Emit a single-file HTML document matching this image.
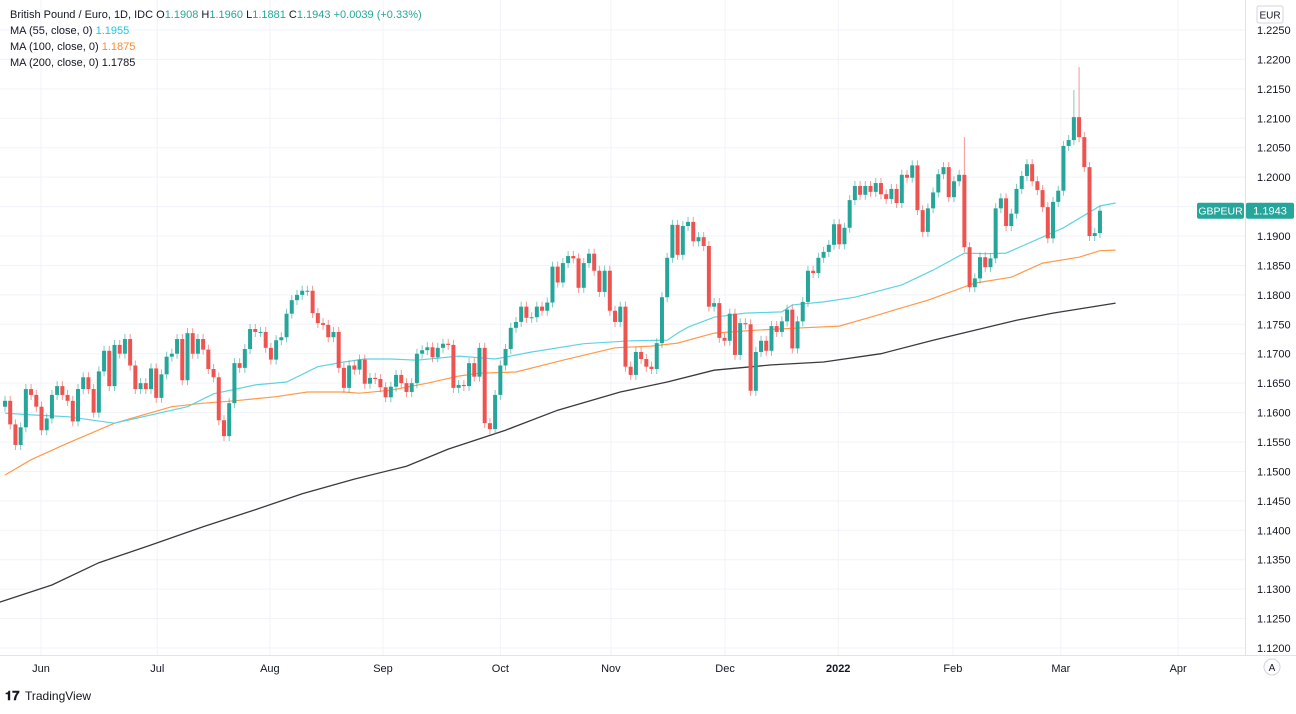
<!DOCTYPE html>
<html><head><meta charset="utf-8">
<style>
body{margin:0;background:#fff;font-family:"Liberation Sans",sans-serif;}
svg text{font-family:"Liberation Sans",sans-serif;}
</style></head>
<body>
<svg id="chart" width="1296" height="709" xmlns="http://www.w3.org/2000/svg">
<rect width="1296" height="709" fill="#fff"/>
<g id="grid"></g>
<g id="mas"></g>
<g id="candles"></g>
<g id="axes"></g>
<g font-size="11" fill="#131722">
<text x="10" y="18">British Pound / Euro, 1D, IDC <tspan fill="#131722">O</tspan><tspan fill="#26a69a">1.1908</tspan> <tspan fill="#131722">H</tspan><tspan fill="#26a69a">1.1960</tspan> <tspan fill="#131722">L</tspan><tspan fill="#26a69a">1.1881</tspan> <tspan fill="#131722">C</tspan><tspan fill="#26a69a">1.1943</tspan> <tspan fill="#26a69a">+0.0039 (+0.33%)</tspan></text>
<text x="10" y="34">MA (55, close, 0) <tspan fill="#22c8dc">1.1955</tspan></text>
<text x="10" y="50">MA (100, close, 0) <tspan fill="#ff8a2f">1.1875</tspan></text>
<text x="10" y="66">MA (200, close, 0) <tspan fill="#131722">1.1785</tspan></text>
</g>
<g><rect x="1257" y="6" width="26" height="17" rx="2" fill="#fff" stroke="#d1d4dc"/><text x="1270" y="18.5" font-size="10" text-anchor="middle" fill="#131722">EUR</text></g>
<g><circle cx="1272" cy="667" r="8" fill="#fff" stroke="#d1d4dc"/><text x="1272" y="671" font-size="10" text-anchor="middle" fill="#131722">A</text></g>
<g><text x="5" y="700" font-size="13" font-weight="bold" fill="#131722">𝟏𝟕</text><text x="25" y="700" font-size="12" fill="#131722">TradingView</text></g>
</svg>
<script>
const closes=[1.162,1.158,1.1545,1.1575,1.164,1.163,1.161,1.157,1.159,1.163,1.1645,1.163,1.162,1.1585,1.164,1.166,1.164,1.160,1.167,1.1705,1.1645,1.1715,1.170,1.1725,1.168,1.164,1.165,1.164,1.1675,1.1625,1.1665,1.1695,1.170,1.1725,1.1655,1.1735,1.170,1.1725,1.1707,1.1674,1.166,1.1587,1.156,1.1616,
1.1684,1.1676,1.1708,1.1742,1.1737,1.1737,1.171,1.169,1.1723,1.1728,1.1768,1.1791,1.180,1.1807,1.1807,1.1769,1.1752,1.1749,1.1728,1.1737,1.1676,1.1642,1.168,1.1673,1.169,1.1649,1.1659,1.1657,1.1643,1.1626,1.1644,1.1664,1.165,1.1635,1.165,1.170,1.1706,1.1711,1.1694,1.171,1.1717,1.1715,
1.1642,1.1647,1.1645,1.1684,1.1661,1.171,1.1582,1.1572,1.163,1.168,1.1708,1.1744,1.1754,1.178,1.1761,1.1762,1.178,1.1773,1.1787,1.1848,1.1821,1.1854,1.1866,1.1862,1.1812,1.1854,1.187,1.1841,1.1805,1.1841,1.1773,1.1754,1.178,1.1678,1.1664,1.1703,1.1691,1.1678,1.1674,1.1718,1.1796,1.1863,
1.1919,1.1868,1.1917,1.1924,1.1891,1.1898,1.1883,1.178,1.1786,1.1727,1.1722,1.1768,1.1698,1.1752,1.175,1.1637,1.1703,1.1722,1.1705,1.1747,1.1737,1.1755,1.1775,1.1709,1.1755,1.1788,1.1841,1.1837,1.1863,1.1873,1.1885,1.192,1.1886,1.1914,1.1961,
1.1985,1.197,1.1985,1.1975,1.199,
1.1971,1.1963,1.198,1.1956,1.2004,1.1999,1.202,1.1944,1.1907,1.1947,1.1974,1.2005,1.2017,1.1966,1.1993,1.2004,1.1881,1.1813,1.1828,1.1864,1.1847,1.1862,1.1947,1.1964,1.1917,1.1938,1.198,1.2002,1.2022,1.1993,1.1978,1.1949,1.1896,1.1958,1.1977,1.2053,1.2063,1.2102,1.2068,1.2017,1.19,1.1905,1.1943];
const firstOpen=1.161;
const spikeIdx=[184,205,206];
const spikeHigh=[1.2068,1.2148,1.2187];
const ma55Idx=[0,5,12,21,28,35,40,48,54,60,65,69,74,79,87,94,101,111,120,127,129,131,136,142,149,151,157,163,172,178,184,188,192,203,210,213];
const ma55Val=[1.1599,1.1596,1.1593,1.1582,1.1596,1.1610,1.1632,1.1647,1.1652,1.1678,1.1686,1.1691,1.1691,1.1689,1.1696,1.1691,1.1703,1.1717,1.1722,1.1723,1.1735,1.1745,1.1762,1.1769,1.1771,1.1783,1.1788,1.1796,1.1817,1.1842,1.1871,1.1870,1.1871,1.1914,1.1951,1.1956];
const ma100Idx=[0,5,12,21,32,38,44,52,58,65,68,74,81,87,91,98,107,117,124,129,136,144,153,160,166,172,177,186,193,199,206,210,213];
const ma100Val=[1.1494,1.1520,1.1548,1.1582,1.1610,1.1616,1.1620,1.1627,1.1635,1.1635,1.1633,1.1638,1.1650,1.1662,1.1667,1.1669,1.1689,1.1710,1.1713,1.1718,1.1735,1.1740,1.1744,1.1747,1.1762,1.1778,1.1791,1.1820,1.1830,1.1854,1.1864,1.1875,1.1876];
const ma200Idx=[-1,9,18,28,38,48,57,67,77,85,96,106,118,127,136,147,157,168,178,186,194,201,213];
const ma200Val=[1.1278,1.1307,1.1345,1.1375,1.1406,1.1435,1.1462,1.1487,1.1509,1.1538,1.1570,1.1604,1.1635,1.1652,1.1672,1.1681,1.1686,1.1700,1.1723,1.1740,1.1757,1.1769,1.1786];
const monthLabels=["Jun","Jul","Aug","Sep","Oct","Nov","Dec","2022","Feb","Mar","Apr"];
const monthIdx=[6.9,29.2,50.8,72.5,95,116.2,138.1,159.8,181.8,202.5,225];
const priceTicks=[1.225,1.22,1.215,1.21,1.205,1.2,1.195,1.19,1.185,1.18,1.175,1.17,1.165,1.16,1.155,1.15,1.145,1.14,1.135,1.13,1.125,1.12];
const lastPrice=1.1943;

const NS="http://www.w3.org/2000/svg";
const PLOT_R=1245, PLOT_B=655;
function y(p){return 30+(1.225-p)/0.005*29.43;}
function x(i){return 5+i*5.214;}
function mk(tag,attrs,parent){const e=document.createElementNS(NS,tag);for(const k in attrs)e.setAttribute(k,attrs[k]);parent.appendChild(e);return e;}
const grid=document.getElementById('grid'),mas=document.getElementById('mas'),cg=document.getElementById('candles'),ax=document.getElementById('axes');
priceTicks.forEach(p=>{
  const l=mk('line',{x1:0,x2:PLOT_R,y1:y(p),y2:y(p),stroke:'#f0f3fa','stroke-width':1},grid);
  
  
  const t=mk('text',{x:1257,y:y(p)+4,'font-size':11,fill:'#131722'},ax);
  t.textContent=p.toFixed(4);
  
  
});
monthLabels.forEach((m,k)=>{
  const xx=x(monthIdx[k]);
  const l=mk('line',{x1:xx,x2:xx,y1:0,y2:PLOT_B,stroke:'#f0f3fa','stroke-width':1},grid);
  
  
  const t=mk('text',{x:xx,y:672,'font-size':11,fill:'#131722','text-anchor':'middle','font-weight':m==='2022'?'bold':'normal'},ax);
  t.textContent=m;
  
  
});
let a1=mk('line',{x1:PLOT_R+0.5,x2:PLOT_R+0.5,y1:0,y2:PLOT_B,stroke:'#e0e3eb'},ax);


let a2=mk('line',{x1:0,x2:1296,y1:PLOT_B+0.5,y2:PLOT_B+0.5,stroke:'#e0e3eb'},ax);


function maLine(idx,val,color,w,name){
  const d=idx.map((i,k)=>(k?'L':'M')+x(i).toFixed(1)+' '+y(val[k]).toFixed(1)).join(' ');
  const p=mk('path',{d:d,fill:'none',stroke:color,'stroke-width':w},mas);
  
  
}
maLine(ma200Idx,ma200Val,'#3a3a3a',1.3,'ma200-line');
maLine(ma100Idx,ma100Val,'#ff9a4a',1.2,'ma100-line');
maLine(ma55Idx,ma55Val,'#5fd3e0',1.2,'ma55-line');
closes.forEach((c,i)=>{
  const o=i?closes[i-1]:firstOpen;
  const up=c>=o;const col=up?'#26a69a':'#ef5350';
  const top=y(Math.max(o,c)),bot=y(Math.min(o,c));
  const xx=x(i);
  const si=spikeIdx.indexOf(i);
  const wt=si>=0?y(spikeHigh[si]):top-5;
  const w=mk('line',{x1:xx,x2:xx,y1:wt,y2:bot+5,stroke:col,'stroke-opacity':0.6,'stroke-width':1},cg);
  
  
  const b=mk('rect',{x:xx-2,y:top,width:4,height:Math.max(1,bot-top),fill:col},cg);
  
  
});
const ly=y(lastPrice);
const g1=mk('rect',{x:1197,y:ly-8,width:47,height:16,rx:2,fill:'#26a69a'},ax);


const t1=mk('text',{x:1220.5,y:ly+4,'font-size':10.5,fill:'#fff','text-anchor':'middle'},ax);t1.textContent='GBPEUR';


const g2=mk('rect',{x:1246,y:ly-8,width:48,height:16,rx:2,fill:'#26a69a'},ax);


const t2=mk('text',{x:1270,y:ly+4,'font-size':11,fill:'#fff','text-anchor':'middle'},ax);t2.textContent=lastPrice.toFixed(4);


</script>
</body></html>
